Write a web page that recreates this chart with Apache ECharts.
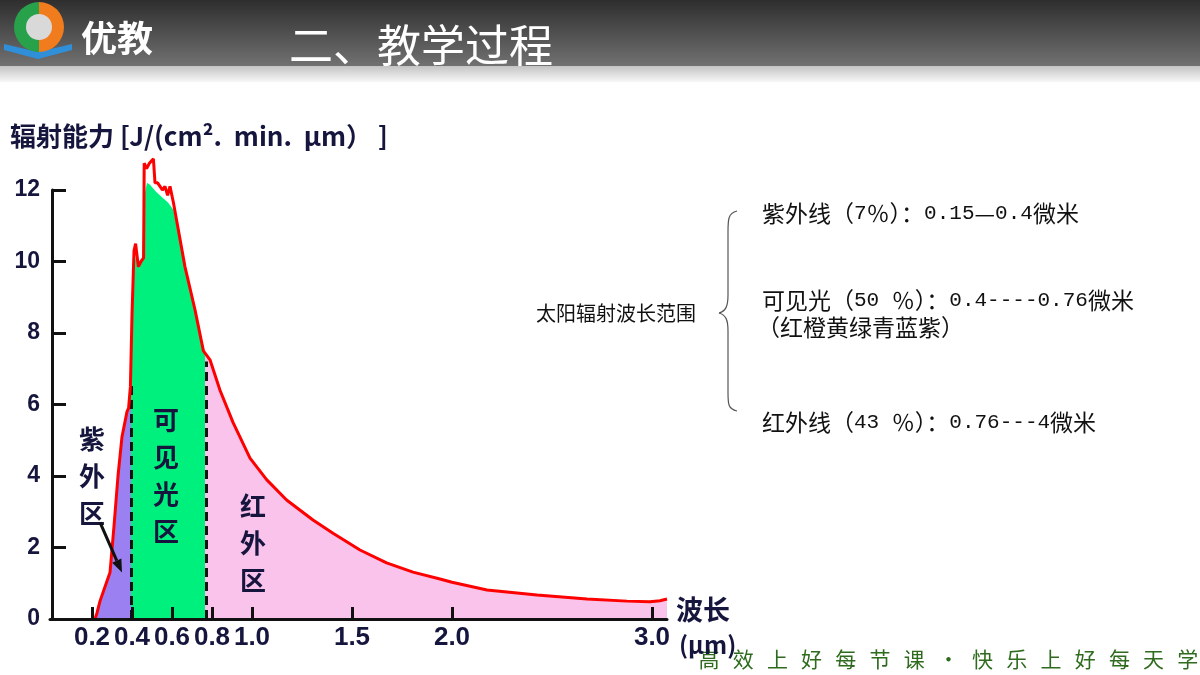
<!DOCTYPE html>
<html>
<head>
<meta charset="utf-8">
<script src="https://cdn.jsdelivr.net/npm/echarts@6/dist/echarts.min.js"></script>
<style>html,body{margin:0;padding:0;background:#fff;}#c{width:1200px;height:675px;}</style>
</head>
<body>
<div id="c"></div>
<script>
// ---- data ----
const xTickValues = [0.2, 0.4, 0.6, 0.8, 1.0, 1.5, 2.0, 3.0];
const yTickValues = [0, 2, 4, 6, 8, 10, 12];
// full spectrum curve (red line): [wavelength µm, radiation]
const spectrum = [
  [0.215,0],[0.225,0.17],[0.24,0.5],[0.265,0.9],[0.29,1.3],[0.31,2.6],[0.33,4.0],[0.35,5.1],
  [0.375,5.8],[0.383,5.9],[0.392,6.5],[0.40,8.5],[0.41,10.3],[0.418,10.5],[0.432,9.85],
  [0.445,10.0],[0.458,10.1],[0.461,12.75],[0.473,12.6],[0.487,12.75],[0.507,12.87],
  [0.515,12.2],[0.528,12.2],[0.54,12.1],[0.552,12.0],[0.565,12.1],[0.578,11.85],[0.59,12.1],
  [0.607,11.65],[0.665,9.85],[0.715,8.65],[0.757,7.5],[0.79,7.25],[0.84,6.4],[0.905,5.5],
  [0.99,4.5],[1.073,3.9],[1.173,3.33],[1.305,2.77],[1.405,2.4],[1.54,1.93],[1.673,1.57],
  [1.805,1.31],[1.94,1.12],[2.0,1.03],[2.175,0.81],[2.425,0.67],[2.675,0.56],[2.875,0.5],
  [2.99,0.48],[3.04,0.51],[3.075,0.56]
];
// filled regions
const uvFill = [
  [0.215,0],[0.225,0.17],[0.24,0.5],[0.265,0.9],[0.29,1.3],[0.31,2.6],[0.33,4.0],[0.35,5.1],
  [0.375,5.8],[0.383,5.9],[0.395,6.4]
];
const visibleFill = [
  [0.395,6.4],[0.40,8.3],[0.41,9.9],[0.425,10.3],[0.435,9.8],[0.45,10.0],[0.46,11.8],
  [0.475,12.2],[0.49,12.15],[0.52,11.95],[0.55,11.8],[0.58,11.65],[0.607,11.45],
  [0.665,9.85],[0.715,8.65],[0.765,7.45]
];
const irFill = [
  [0.765,7.45],[0.79,7.25],[0.84,6.4],[0.905,5.5],[0.99,4.5],[1.073,3.9],[1.173,3.33],
  [1.305,2.77],[1.405,2.4],[1.54,1.93],[1.673,1.57],[1.805,1.31],[1.94,1.12],[2.0,1.03],
  [2.175,0.81],[2.425,0.67],[2.675,0.56],[2.875,0.5],[2.99,0.48],[3.04,0.51],[3.075,0.56]
];
// dashed band boundaries: [x, top]
const boundaries = [[0.395, 6.6], [0.77, 7.2]];
// text content
const headerTitle = '二、教学过程';
const logoText = '优教';
const yAxisTitle = '辐射能力 [J/(cm².  min.  µm） ]';
const xAxisTitle = '波长';
const xAxisUnit = '(µm)';
const zoneLabels = [['紫外区', 0.2, 4.0], ['可见光区', 0.57, 4.0], ['红外区', 1.005, 2.13]];
const sideTitle = '太阳辐射波长范围';
const sideLines = [
  '紫外线（7％）：0.15—0.4微米',
  '可见光（50 ％）：0.4----0.76微米',
  '（红橙黄绿青蓝紫）',
  '红外线（43 ％）：0.76---4微米'
];
const footer = '高效上好每节课·快乐上好每天学';

// ---- chart ----
const chart = echarts.init(document.getElementById('c'));
const navy = '#15153d';
const numFont = "'Liberation Sans',sans-serif";

function txt(x, y, text, font, fill, z, align, vAlign) {
  return {type:'text', z:z||5, x:x, y:y, silent:true,
    style:{text:text, fill:fill, font:font, align:align||'left', verticalAlign:vAlign||'middle'}};
}
// mixed CJK / half-width text: half-width runs in a monospaced face
function sideText(x, y, s) {
  const t = s.replace(/([\x20-\x7E]+)/g, '{m|$1}');
  return {type:'text', z:5, x:x, y:y, silent:true,
    style:{text:t, fill:'#111', font:"23px 'Noto Sans CJK SC'", align:'left', verticalAlign:'middle',
      rich:{m:{font:"21px 'Liberation Mono'", fill:'#111', verticalAlign:'middle'}}}};
}

const graphics = [];
// header bar
graphics.push({type:'rect', shape:{x:0,y:0,width:1200,height:66}, z:1, silent:true,
  style:{fill:new echarts.graphic.LinearGradient(0,0,0,1,[{offset:0,color:'#2e2e2e'},{offset:1,color:'#717171'}])}});
graphics.push({type:'rect', shape:{x:0,y:66,width:1200,height:16}, z:1, silent:true,
  style:{fill:new echarts.graphic.LinearGradient(0,0,0,1,[{offset:0,color:'#c4c4c4'},{offset:1,color:'#f7f7f7'}])}});
// logo
graphics.push({type:'polygon', z:2, shape:{points:[[4,44],[38,52],[72,44],[72,50],[38,59],[4,50]]}, style:{fill:'#2f8fd8'}});
graphics.push({type:'sector', z:3, shape:{cx:39,cy:27,r0:0,r:25,startAngle:Math.PI/2,endAngle:Math.PI*1.5}, style:{fill:'#27a24a'}});
graphics.push({type:'sector', z:3, shape:{cx:39,cy:27,r0:0,r:25,startAngle:-Math.PI/2,endAngle:Math.PI/2}, style:{fill:'#f07c1e'}});
graphics.push({type:'circle', z:4, shape:{cx:39,cy:27,r:13}, style:{fill:'#d9d9d9'}});
graphics.push(txt(81, 38, logoText, "bold 36px 'Noto Sans CJK SC'", '#ffffff', 5));
graphics.push(txt(289, 45, headerTitle, "44px 'Noto Sans CJK SC'", '#ffffff', 5));
// y axis title
graphics.push(txt(10, 136, yAxisTitle, "bold 26px 'Noto Sans CJK SC'", navy, 5));
// x axis title
graphics.push(txt(676, 610, xAxisTitle, "bold 27px 'Noto Sans CJK SC'", navy, 5));
graphics.push(txt(679, 645, xAxisUnit, "bold 24px 'Noto Sans CJK SC'", navy, 6));
// side text
graphics.push(txt(536, 313, sideTitle, "20px 'Noto Sans CJK SC'", '#111', 5));
const sideCenters = [213, 300, 327, 422];
sideLines.forEach((t,i)=>{
  graphics.push(sideText(i===2 ? 757 : 762, sideCenters[i], t));
});
// brace
const braceStyle = {fill:'none', stroke:'#555', lineWidth:1.2};
graphics.push({type:'bezierCurve', z:5, shape:{x1:737,y1:211,cpx1:728,cpy1:213,cpx2:728,cpy2:220,x2:728,y2:232}, style:braceStyle});
graphics.push({type:'line', z:5, shape:{x1:728,y1:232,x2:728,y2:295}, style:braceStyle});
graphics.push({type:'bezierCurve', z:5, shape:{x1:728,y1:295,cpx1:728,cpy1:306,cpx2:726,cpy2:311,x2:719,y2:313}, style:braceStyle});
graphics.push({type:'bezierCurve', z:5, shape:{x1:719,y1:313,cpx1:726,cpy1:315,cpx2:728,cpy2:320,x2:728,y2:331}, style:braceStyle});
graphics.push({type:'line', z:5, shape:{x1:728,y1:331,x2:728,y2:392}, style:braceStyle});
graphics.push({type:'bezierCurve', z:5, shape:{x1:728,y1:392,cpx1:728,cpy1:404,cpx2:728,cpy2:409,x2:737,y2:411}, style:braceStyle});
// footer
Array.from(footer).forEach((ch,i)=>{
  graphics.push(txt(709 + i*34.2, 659, ch, "21px 'Noto Sans CJK SC'", '#2f6b1f', 4, 'center'));
});

chart.setOption({
  backgroundColor:'#ffffff',
  animation:false,
  grid:{left:50, top:190, width:617, height:429, containLabel:false},
  xAxis:{type:'value', min:-0.01, max:3.075, z:10,
    axisLine:{show:true, lineStyle:{color:'#111', width:3}},
    axisTick:{show:true, inside:true, length:12, lineStyle:{color:'#111', width:3}, customValues:xTickValues},
    axisLabel:{customValues:xTickValues, hideOverlap:false, showMinLabel:true, formatter:v=>Number(v).toFixed(1), color:navy, fontWeight:'bold', fontSize:26, fontFamily:numFont, margin:6},
    splitLine:{show:false}},
  yAxis:{type:'value', min:0, max:12, z:10,
    axisLine:{show:true, lineStyle:{color:'#111', width:3}},
    axisTick:{show:true, inside:true, length:14, lineStyle:{color:'#111', width:3}, customValues:yTickValues},
    axisLabel:{customValues:yTickValues, color:navy, fontWeight:'bold', fontSize:23, fontFamily:numFont, margin:10},
    splitLine:{show:false}},
  series:[
    {type:'line', data:uvFill, symbol:'none', clip:false, z:2, lineStyle:{width:0}, areaStyle:{color:'#9b80f2', opacity:1}},
    {type:'line', data:visibleFill, symbol:'none', clip:false, z:2, lineStyle:{width:0}, areaStyle:{color:'#00f07e', opacity:1}},
    {type:'line', data:irFill, symbol:'none', clip:false, z:2, lineStyle:{width:0}, areaStyle:{color:'#f9c3ec', opacity:1},
      markLine:{symbol:'none', silent:true, label:{show:false}, z:3,
        lineStyle:{color:'#111', type:[9,5], width:3},
        data: boundaries.map(b=>[{coord:[b[0],0]},{coord:[b[0],b[1]]}])}},
    {type:'line', data:spectrum, symbol:'none', clip:false, z:4, lineStyle:{color:'#ff0000', width:3}}
  ]
});

// zone labels placed at data coordinates through the axes
const extra = [];
zoneLabels.forEach(z=>{
  const p = chart.convertToPixel({gridIndex:0}, [z[1], z[2]]);
  extra.push({type:'text', z:6, x:p[0], y:p[1], silent:true,
    style:{text:Array.from(z[0]).join('\n'), fill:navy, font:"bold 26px 'Noto Sans CJK SC'", lineHeight:37, align:'center', verticalAlign:'middle'}});
});
// arrow from UV label to UV area
const a0 = chart.convertToPixel({gridIndex:0}, [0.24, 2.7]);
const a1 = chart.convertToPixel({gridIndex:0}, [0.35, 1.3]);
const ang = Math.atan2(a1[1]-a0[1], a1[0]-a0[0]);
const hl = 13, hw = 5;
const bx = a1[0]-hl*Math.cos(ang), by = a1[1]-hl*Math.sin(ang);
extra.push({type:'line', z:6, shape:{x1:a0[0],y1:a0[1],x2:bx,y2:by}, style:{stroke:'#111', lineWidth:3}});
extra.push({type:'polygon', z:6, shape:{points:[[a1[0],a1[1]],[bx+hw*Math.sin(ang),by-hw*Math.cos(ang)],[bx-hw*Math.sin(ang),by+hw*Math.cos(ang)]]}, style:{fill:'#111'}});
chart.setOption({graphic: graphics.concat(extra)});
</script>
</body>
</html>
